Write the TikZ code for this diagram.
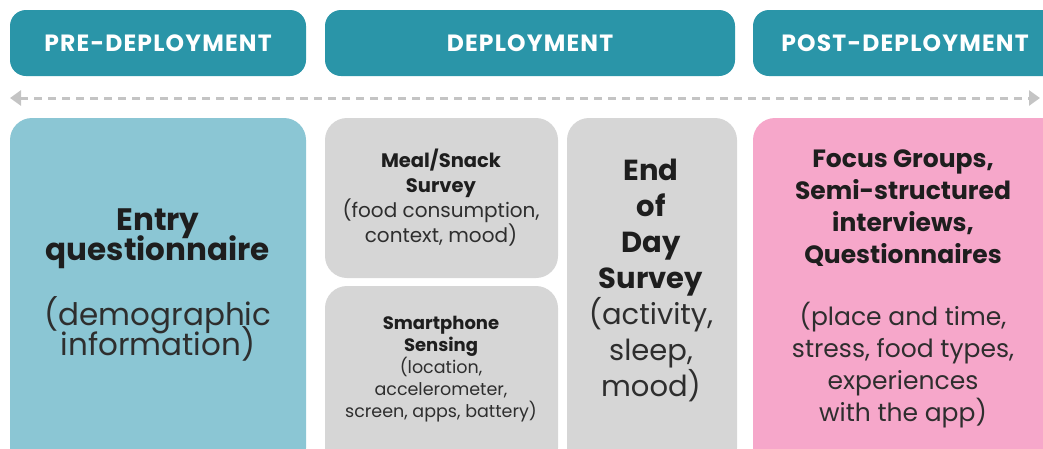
\documentclass[tikz,border=0pt]{standalone}
\usepackage{fontspec}
\setmainfont{Poppins}
\newfontfamily\hdrfont[LetterSpace=5]{Poppins}
\usetikzlibrary{arrows.meta}
\definecolor{teal}{HTML}{2A95A8}
\definecolor{lblue}{HTML}{8BC6D4}
\definecolor{lgray}{HTML}{D6D6D6}
\definecolor{pink}{HTML}{F6A7CA}
\definecolor{arrowgray}{HTML}{C4C4C4}
\definecolor{txt}{HTML}{1E1E1E}
\definecolor{subtxt}{HTML}{2E2E2E}
\newcommand{\tightlines}{\lineskiplimit=-100pt\relax\lineskip=0pt\relax}
\tikzset{
  header/.style={fill=teal, rounded corners=16pt, minimum height=66pt, inner sep=0pt,
    text=white, font=\hdrfont\fontsize{23.5}{25}\selectfont\bfseries},
  card/.style={rounded corners=22pt, inner sep=0pt},
  label/.style={align=center, text=txt, inner sep=0pt},
}
\newcommand{\sub}[1]{\textcolor{subtxt}{#1}}
\begin{document}
\begin{tikzpicture}[x=1pt,y=-1pt]
\useasboundingbox (0,0) rectangle (1043,448);
\clip (0,0) rectangle (1043,448);
% headers
\node[header, minimum width=296pt] (h1) at (158,43) {PRE-DEPLOYMENT};
\node[header, minimum width=410pt] (h2) at (530,43) {DEPLOYMENT};
\node[header, minimum width=310pt, text width=270pt, align=center] (h3) at (908,43) {\hspace*{-6pt}POST-DEPLOYMENT};
% timeline arrow
\coordinate (al) at (10,98);
\coordinate (ar) at (1040,98);
\draw[arrowgray, line width=3pt, dash pattern=on 8pt off 6pt,
  {Triangle[length=11pt,width=15pt]}-{Triangle[length=11pt,width=15pt]}] (al) -- (ar);
% cards
\node[card, fill=lblue, minimum width=296pt, minimum height=352pt] (entry) at (158,294) {};
\node[card, fill=lgray, minimum width=233pt, minimum height=160pt] (meal) at (441.5,198) {};
\node[card, fill=lgray, minimum width=233pt, minimum height=184pt] (phone) at (441.5,378) {};
\node[card, fill=lgray, minimum width=170pt, minimum height=352pt] (eod) at (652,294) {};
\node[card, fill=pink, minimum width=310pt, minimum height=352pt] (post) at (908,294) {};
% texts
\node[label, font=\fontsize{31}{30}\selectfont\tightlines] (entryt) at (158,285)
  {\textbf{Entry}\\\textbf{questionnaire}\\[35pt]\sub{(demographic}\\\sub{information)}};
\node[label, font=\fontsize{20}{25}\selectfont] (mealt) at (441,198)
  {\textbf{\fontsize{19.5}{25}\selectfont Meal/Snack}\\\textbf{\fontsize{19.5}{25}\selectfont Survey}\\\sub{(food consumption,}\\\sub{context, mood)}};
\node[label, font=\fontsize{17.5}{22}\selectfont] (phonet) at (441,369)
  {\textbf{\fontsize{18}{22}\selectfont Smartphone}\\\textbf{\fontsize{18}{22}\selectfont Sensing}\\\sub{(location,}\\\sub{accelerometer,}\\\sub{screen, apps, battery)}};
\node[label, font=\fontsize{29}{36}\selectfont] (eodt) at (651,280)
  {\textbf{End}\\\textbf{of}\\\textbf{Day}\\\textbf{Survey}\\\sub{(activity,}\\\sub{sleep,}\\\sub{mood)}};
\node[label, font=\fontsize{25}{32}\selectfont] (postt) at (903,289)
  {\textbf{Focus Groups,}\\\textbf{Semi-structured}\\\textbf{interviews,}\\\textbf{Questionnaires}\\[30pt]\sub{(place and time,}\\\sub{stress, food types,}\\\sub{experiences}\\\sub{with the app)}};
\end{tikzpicture}
\end{document}
